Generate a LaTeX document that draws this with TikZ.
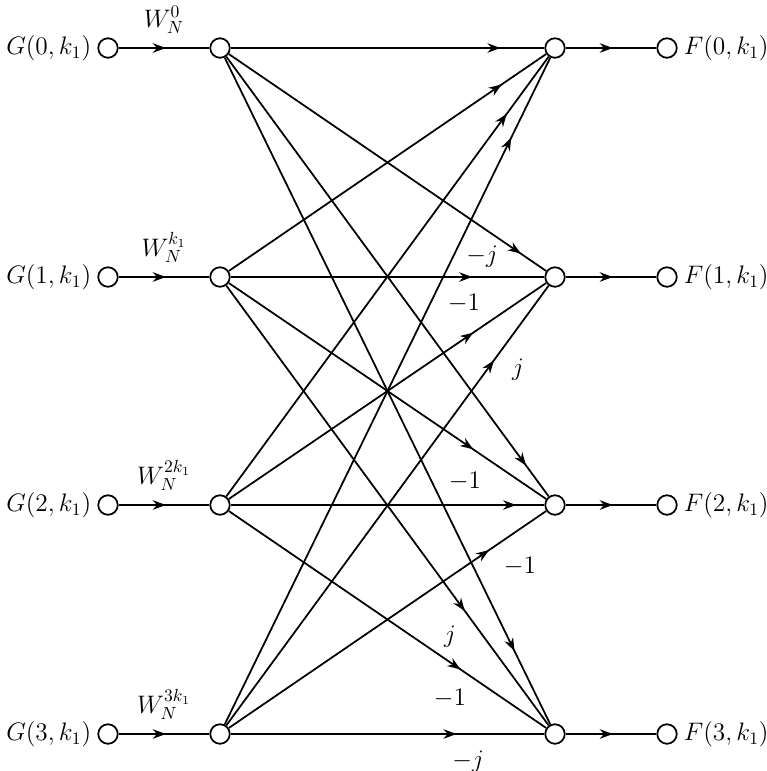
\documentclass[tikz,border=0pt]{standalone}
\usetikzlibrary{arrows.meta,decorations.markings}

\tikzset{
  io/.style={circle, draw, line width=1pt, fill=white, minimum size=3.9mm, inner sep=0pt},
  flow/.style={line width=1pt, postaction={decorate, decoration={markings,
      mark=at position #1 with {\arrow{Stealth[length=2.6mm,width=1.9mm]}}}}},
  flow/.default=0.5,
}

\begin{document}
\begin{tikzpicture}[x=0.2mm, y=-0.2mm, every node/.style={font=\fontsize{14}{17}\selectfont}]
            \useasboundingbox (0,0) rectangle (767,771);

            % the four rows of nodes
            \foreach \i/\y in {0/48,1/277,2/505,3/734} {
                \node[io] (g\i) at (108,\y) {};
                \node[io] (m\i) at (220,\y) {};
                \node[io] (r\i) at (555,\y) {};
                \node[io] (f\i) at (667,\y) {};
                \node[left] (gl\i) at (g\i.west) {$G(\i,k_1)$};
                \node[right] (fl\i) at (f\i.east) {$F(\i,k_1)$};
                \draw[flow=0.52] (r\i) -- (f\i);
            }

            % twiddle factors
            \foreach \i/\w in {0/{0},1/{k_1},2/{2k_1},3/{3k_1}}
                \draw[flow=0.52] (g\i) -- node[above=1.6mm] (w\i) {$W_N^{\w}$} (m\i);

            % butterfly
            \foreach \a/\b/\p in {0/0/0.86, 1/0/0.86, 2/0/0.87, 3/0/0.88,
                                  0/1/0.92, 1/1/0.77, 2/1/0.77, 3/1/0.83,
                                  0/2/0.93, 1/2/0.77, 2/2/0.91, 3/2/0.82,
                                  0/3/0.89, 1/3/0.74, 2/3/0.73, 3/3/0.72}
                \draw[flow=\p] (m\a) -- (r\b);

            \node (c1) at (482,257) {$-j$};
            \node (c2) at (464,303) {$-1$};
            \node (c3) at (518,370) {$j$};
            \node (c4) at (465,481) {$-1$};
            \node (c5) at (520,566) {$-1$};
            \node (c6) at (450,637) {$j$};
            \node (c7) at (450,698) {$-1$};
            \node (c8) at (468,762) {$-j$};
        \end{tikzpicture}
\end{document}
